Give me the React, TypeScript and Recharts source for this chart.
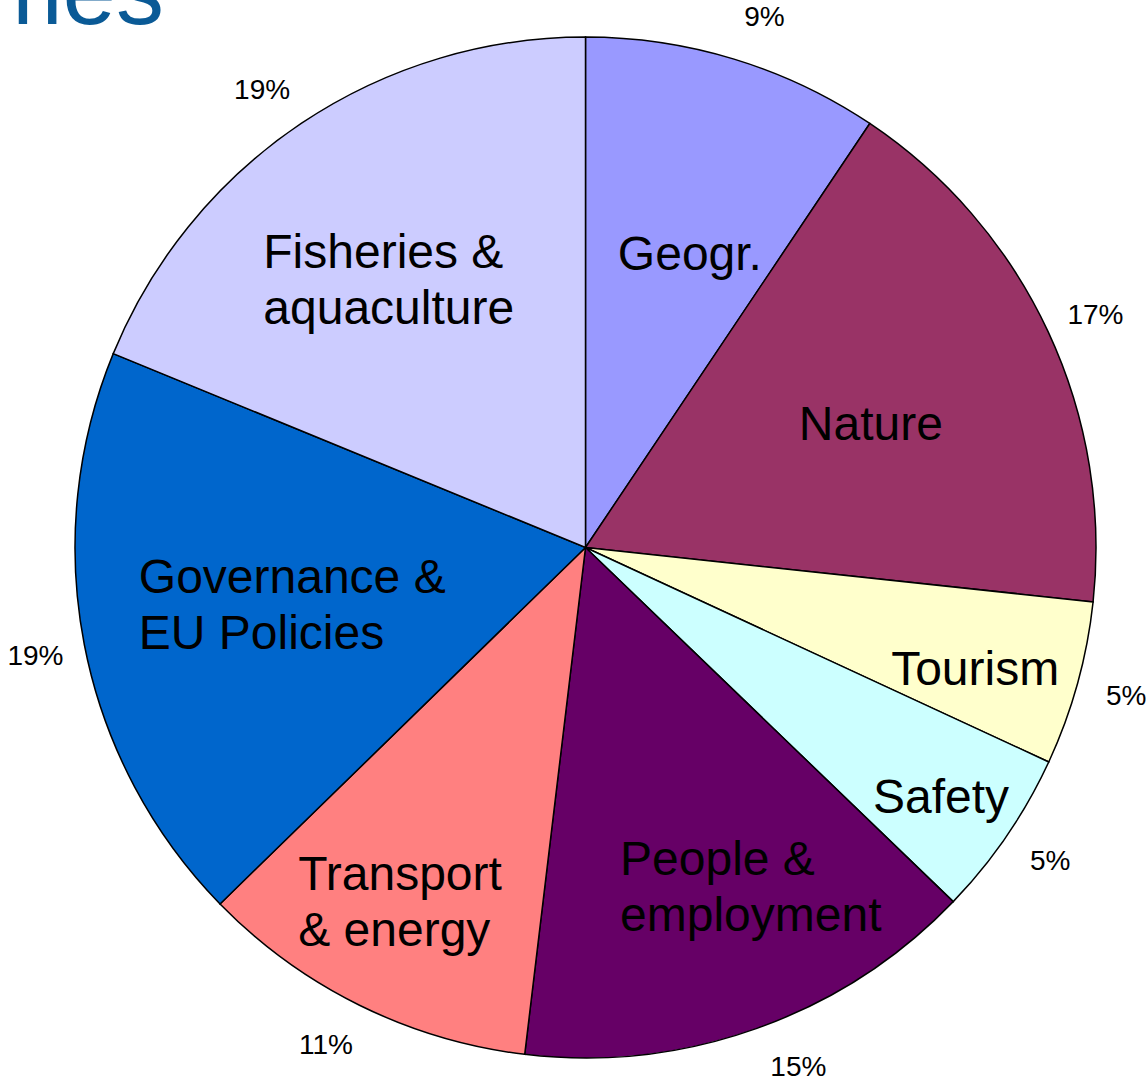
import { Cell, Pie, PieChart } from "recharts";

const categories = [
  "Geogr.",
  "Nature",
  "Tourism",
  "Safety",
  "People &\nemployment",
  "Transport\n& energy",
  "Governance &\nEU Policies",
  "Fisheries &\naquaculture",
];
const values = [9.4, 17.3, 5.2, 5.3, 14.7, 10.8, 18.5, 18.8];
const pctLabels = ["9%", "17%", "5%", "5%", "15%", "11%", "19%", "19%"];
const colors = ["#9999FF", "#993366", "#FFFFCC", "#CCFFFF", "#660066", "#FF8080", "#0066CC", "#CCCCFF"];

// label placement (fraction of radius, clockwise nudge in degrees)
const innerR = [0.612, 0.61, 0.799, 0.85, 0.738, 0.782, 0.585, 0.652];
const innerNudge = [2.6, 1.4, 1.7, 0.6, -6.4, 1.4, 0.1, -2.4];
const pctNudge = [1.7, 0.5, -0.2, -0.4, -2.7, 1.3, -0.1, -1.4];

const data = categories.map((name, i) => ({ name, value: values[i] }));

const FONT = "'Liberation Sans', Arial, sans-serif";
const RAD = Math.PI / 180;

let ctx: CanvasRenderingContext2D | null = null;
function textWidth(s: string, size: number) {
  if (!ctx) ctx = document.createElement("canvas").getContext("2d");
  if (!ctx) return s.length * size * 0.5;
  ctx.font = `${size}px ${FONT}`;
  return ctx.measureText(s).width;
}

function renderLabel(props: any) {
  const { cx, cy, midAngle, outerRadius, index } = props;
  const lines = categories[index].split("\n");
  const a1 = (midAngle - innerNudge[index]) * RAD;
  const r1 = outerRadius * innerR[index];
  const bx = cx + r1 * Math.cos(a1);
  const by = cy - r1 * Math.sin(a1);
  const fs = 48;
  const lh = 56;
  const w = Math.max(...lines.map((l) => textWidth(l, fs)));
  const b1 = by + 17 - (lines.length - 1) * (lh / 2);

  const a2 = (midAngle - pctNudge[index]) * RAD;
  const r2 = outerRadius + 50;
  const px = cx + r2 * Math.cos(a2);
  const py = cy - r2 * Math.sin(a2);

  return (
    <g>
      <text x={bx - w / 2} y={b1} fontSize={fs} fontFamily={FONT} fill="#000" textAnchor="start">
        {lines.map((l, i) => (
          <tspan key={i} x={bx - w / 2} y={b1 + i * lh}>
            {l}
          </tspan>
        ))}
      </text>
      <text x={px} y={py} fontSize={28} fontFamily={FONT} fill="#000" textAnchor="middle" dominantBaseline="central">
        {pctLabels[index]}
      </text>
    </g>
  );
}

export default function App() {
  return (
    <div style={{ position: "absolute", left: 0, top: 0, width: 1146, height: 1088, background: "#fff" }}>
      <PieChart width={1146} height={1088} margin={{ top: 0, right: 0, bottom: 0, left: 0 }}>
        <Pie
          data={data}
          dataKey="value"
          nameKey="name"
          cx={585.5}
          cy={547.5}
          outerRadius={510.5}
          startAngle={90}
          endAngle={-270}
          stroke="#000"
          strokeWidth={1.5}
          label={renderLabel}
          labelLine={false}
          isAnimationActive={false}
        >
          {data.map((d, i) => (
            <Cell key={d.name} fill={colors[i]} />
          ))}
        </Pie>
      </PieChart>
      <svg width={400} height={60} style={{ position: "absolute", left: 0, top: 0 }}>
        <text x={164} y={24} fontSize={96} fontFamily={FONT} fill="#0A5A96" textAnchor="end">
          Themes
        </text>
      </svg>
    </div>
  );
}
